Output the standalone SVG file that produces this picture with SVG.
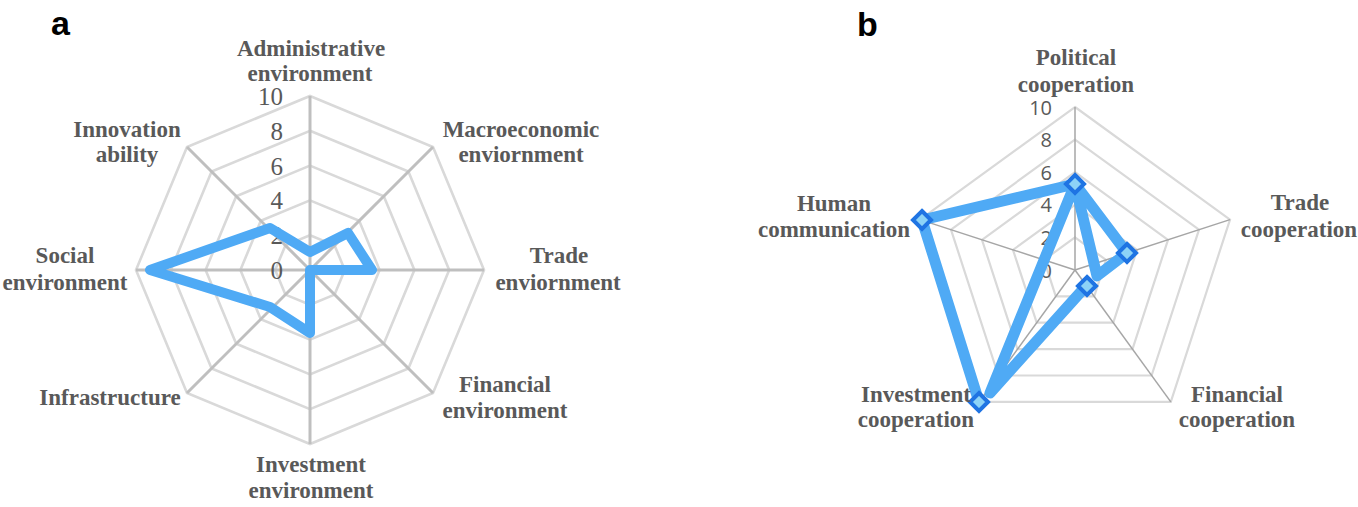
<svg xmlns="http://www.w3.org/2000/svg" width="1358" height="507" viewBox="0 0 1358 507">
<style>
.ring-a{fill:none;stroke:#d9d9d9;stroke-width:2.6}
.axis-a{stroke:#bfbfbf;stroke-width:3}
.ring-b{fill:none;stroke:#d9d9d9;stroke-width:2.2}
.axis-b{stroke:#a6a6a6;stroke-width:1.5}
.series{fill:none;stroke:#4faaf5;stroke-linejoin:round}
.cat{font-family:"Liberation Serif","Times New Roman",serif;font-weight:bold;font-size:23px;fill:#595959;text-anchor:middle}
.tick-a{font-family:"Liberation Serif","Times New Roman",serif;font-size:25px;fill:#595959;text-anchor:end}
.tick-b{font-family:"Open Sans","Liberation Sans",sans-serif;font-size:20px;fill:#595959;text-anchor:end}
.panel{font-family:"Liberation Sans",Arial,sans-serif;font-weight:bold;font-size:34px;fill:#000}
.mk{fill:#8dd3f7;stroke:#1f74e3;stroke-width:4;stroke-linejoin:miter}
</style>
<defs>
<path id="dia" class="mk" d="M0,-9 L9,0 L0,9 L-9,0 Z"/>
</defs>
<rect width="1358" height="507" fill="#ffffff"/>

<text class="panel" x="51" y="35">a</text>
<text class="panel" x="857" y="36">b</text>

<g id="chart-a">
<g id="grid-a">
<polygon class="ring-a" points="310,235.2 334.6,245.4 344.8,270 334.6,294.6 310,304.8 285.4,294.6 275.2,270 285.4,245.4"/>
<polygon class="ring-a" points="310,200.4 359.2,220.8 379.6,270 359.2,319.2 310,339.6 260.8,319.2 240.4,270 260.8,220.8"/>
<polygon class="ring-a" points="310,165.6 383.8,196.2 414.4,270 383.8,343.8 310,374.4 236.2,343.8 205.6,270 236.2,196.2"/>
<polygon class="ring-a" points="310,130.8 408.4,171.6 449.2,270 408.4,368.4 310,409.2 211.6,368.4 170.8,270 211.6,171.6"/>
<polygon class="ring-a" points="310,96 433,147 484,270 433,393 310,444 187,393 136,270 187,147"/>
<line class="axis-a" x1="310" y1="270" x2="310" y2="96"/>
<line class="axis-a" x1="310" y1="270" x2="433" y2="147"/>
<line class="axis-a" x1="310" y1="270" x2="484" y2="270"/>
<line class="axis-a" x1="310" y1="270" x2="433" y2="393"/>
<line class="axis-a" x1="310" y1="270" x2="310" y2="444"/>
<line class="axis-a" x1="310" y1="270" x2="187" y2="393"/>
<line class="axis-a" x1="310" y1="270" x2="136" y2="270"/>
<line class="axis-a" x1="310" y1="270" x2="187" y2="147"/>
</g>
<g id="ticks-a">
<text class="tick-a" x="283" y="279">0</text>
<text class="tick-a" x="283" y="244">2</text>
<text class="tick-a" x="283" y="209">4</text>
<text class="tick-a" x="283" y="175">6</text>
<text class="tick-a" x="283" y="140">8</text>
<text class="tick-a" x="283" y="105">10</text>
</g>
<g id="series-a">
<polygon class="series" stroke-width="10" points="310,252 348,233 372,270 310,270 310,333 270,307 150,270 270,228"/>
</g>
<g id="label-administrative"><text class="cat" x="311" y="56">Administrative</text><text class="cat" x="310" y="81">environment</text></g>
<g id="label-macroeconomic"><text class="cat" x="521" y="137">Macroeconomic</text><text class="cat" x="521" y="162">enviornment</text></g>
<g id="label-trade-env"><text class="cat" x="559" y="263">Trade</text><text class="cat" x="558" y="290">enviornment</text></g>
<g id="label-financial-env"><text class="cat" x="505" y="392">Financial</text><text class="cat" x="505" y="418">environment</text></g>
<g id="label-investment-env"><text class="cat" x="311" y="472">Investment</text><text class="cat" x="311" y="498">environment</text></g>
<g id="label-infrastructure"><text class="cat" x="110" y="405">Infrastructure</text></g>
<g id="label-social"><text class="cat" x="65" y="263">Social</text><text class="cat" x="65" y="290">environment</text></g>
<g id="label-innovation"><text class="cat" x="127" y="137">Innovation</text><text class="cat" x="127" y="162">ability</text></g>
</g>

<g id="chart-b">
<g id="grid-b">
<polygon class="ring-b" points="1075,237.4 1106,259.9 1094.2,296.4 1055.8,296.4 1044,259.9"/>
<polygon class="ring-b" points="1075,204.8 1137,249.9 1113.3,322.7 1036.7,322.7 1013,249.9"/>
<polygon class="ring-b" points="1075,172.2 1168,239.8 1132.5,349.1 1017.5,349.1 982,239.8"/>
<polygon class="ring-b" points="1075,139.6 1199,229.7 1151.6,375.5 998.4,375.5 951,229.7"/>
<polygon class="ring-b" points="1075,107 1230,219.6 1170.8,401.9 979.2,401.9 920,219.6"/>
<line class="axis-b" x1="1075" y1="270" x2="1075" y2="107"/>
<line class="axis-b" x1="1075" y1="270" x2="1230" y2="219.6"/>
<line class="axis-b" x1="1075" y1="270" x2="1170.8" y2="401.9"/>
<line class="axis-b" x1="1075" y1="270" x2="979.2" y2="401.9"/>
<line class="axis-b" x1="1075" y1="270" x2="920" y2="219.6"/>
</g>
<g id="ticks-b">
<text class="tick-b" x="1052" y="277.5">0</text>
<text class="tick-b" x="1052" y="245">2</text>
<text class="tick-b" x="1052" y="212">4</text>
<text class="tick-b" x="1052" y="180">6</text>
<text class="tick-b" x="1052" y="147">8</text>
<text class="tick-b" x="1052" y="114.5">10</text>
</g>
<g id="series-b">
<polyline class="series" stroke-width="11" points="979,402 922,220 1075,184 1127,253 1097,276 1075,184 990,393 1087,285"/>
<use href="#dia" x="1075" y="184"/>
<use href="#dia" x="1127" y="253"/>
<use href="#dia" x="1087" y="286"/>
<use href="#dia" x="979" y="402"/>
<use href="#dia" x="922" y="220"/>
</g>
<g id="label-political"><text class="cat" x="1076" y="65">Political</text><text class="cat" x="1076" y="92">cooperation</text></g>
<g id="label-trade-coop"><text class="cat" x="1300" y="210">Trade</text><text class="cat" x="1299" y="237">cooperation</text></g>
<g id="label-financial-coop"><text class="cat" x="1237" y="402">Financial</text><text class="cat" x="1237" y="427">cooperation</text></g>
<g id="label-investment-coop"><text class="cat" x="916" y="402">Investment</text><text class="cat" x="916" y="427">cooperation</text></g>
<g id="label-human"><text class="cat" x="834" y="211">Human</text><text class="cat" x="834" y="237">communication</text></g>
</g>
</svg>
